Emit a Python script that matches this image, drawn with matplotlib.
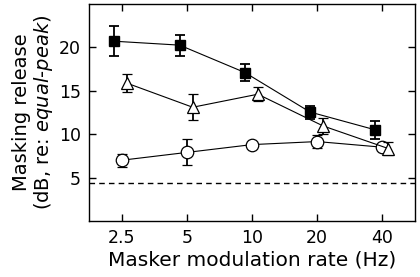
import matplotlib
matplotlib.use("Agg")
import matplotlib.pyplot as plt
import numpy as np

rates = ["2.5", "5", "10", "20", "40"]
sq_vals = [20.7, 20.25, 17.1, 12.55, 10.5]
sq_err = [1.7, 1.2, 1.0, 0.75, 1.05]
tri_vals = [15.85, 13.1, 14.6, 10.95, 8.35]
tri_err = [1.05, 1.5, 0.8, 0.9, 0.75]
circ_vals = [7.0, 7.9, 8.8, 9.15, 8.5]
circ_err = [0.75, 1.5, 0.2, 0.75, 0.3]
baseline = 4.35

plt.rcParams['font.family'] = ['DejaVu Sans']
plt.rcParams['mathtext.fontset'] = 'custom'
plt.rcParams['mathtext.it'] = 'DejaVu Sans:italic'
plt.rcParams['mathtext.rm'] = 'DejaVu Sans'

fig = plt.figure(figsize=(4.2, 2.77), dpi=100)
ax = fig.add_axes([0.212, 0.202, 0.776, 0.784])

x = np.arange(1, len(rates) + 1)
ekw = dict(ecolor='black', elinewidth=1.3, capsize=3.3, capthick=1.3)
ax.errorbar(x - 0.11, sq_vals, yerr=sq_err, fmt='s-', color='black', lw=0.8,
            ms=6.5, mfc='black', mec='black', zorder=3, **ekw)
ax.errorbar(x + 0.09, tri_vals, yerr=tri_err, fmt='^-', color='black', lw=0.8,
            ms=8.5, mfc='white', mec='black', mew=0.9, zorder=3, **ekw)
ax.errorbar(x, circ_vals, yerr=circ_err, fmt='o-', color='black', lw=0.8,
            ms=9, mfc='white', mec='black', mew=0.9, zorder=2, **ekw)
ax.axhline(baseline, color='black', lw=1.0, ls=(0, (4, 3)))

ax.set_xlim(0.5, 5.5)
ax.set_ylim(0, 25)
ax.set_xticks(x)
ax.set_xticklabels(rates)
ax.set_yticks([5, 10, 15, 20])
ax.tick_params(direction='in', length=5, width=1.0, labelsize=12.5,
               top=True, right=True, pad=6)
for s in ax.spines.values():
    s.set_linewidth(1.0)

ax.set_xlabel('Masker modulation rate (Hz)', fontsize=14.5, labelpad=2)
ax.set_ylabel('Masking release\n(dB, re: $equal$-$peak$)', fontsize=14,
              linespacing=1.05, labelpad=3)

fig.savefig('out.png', dpi=100)
